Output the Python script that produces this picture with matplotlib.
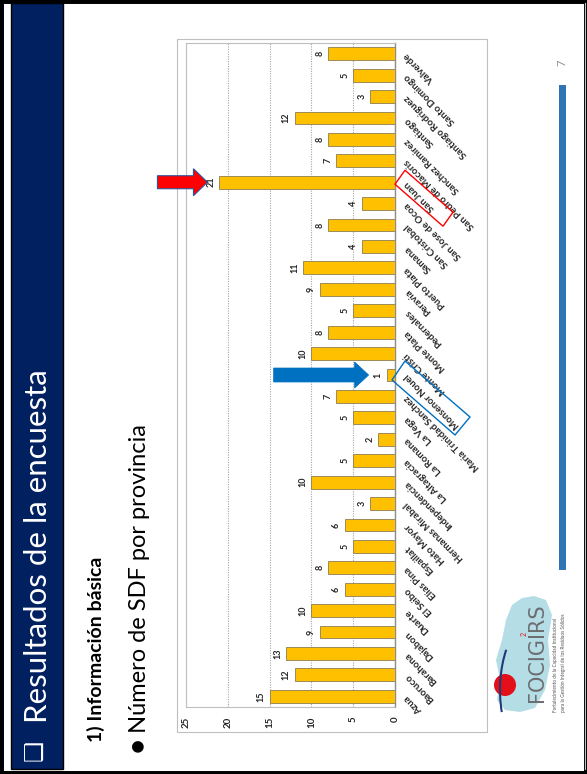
import matplotlib
matplotlib.use('Agg')
import matplotlib.pyplot as plt
from matplotlib.patches import Polygon, Rectangle, Circle, Arc
import numpy as np

# ---------------- data ----------------
provinces = ["Azua", "Baoruco", "Barahona", "Dajabon", "Duarte", "El Seibo",
             "Elias Pina", "Espaillat", "Hato Mayor", "Hermanas Mirabal",
             "Independencia", "La Altagracia", "La Romana", "La Vega",
             "Maria Trinidad Sanchez", "Monsenor Nouel", "Monte Cristi",
             "Monte Plata", "Pedernales", "Peravia", "Puerto Plata", "Samana",
             "San Cristobal", "San Jose de Ocoa", "San Juan",
             "San Pedro de Macoris", "Sanchez Ramirez", "Santiago",
             "Santiago Rodriguez", "Santo Domingo", "Valverde"]
sdf_counts = [15, 12, 13, 9, 10, 6, 8, 5, 6, 3, 10, 5, 2, 5, 7, 1, 10, 8, 5, 9,
              11, 4, 8, 4, 21, 7, 8, 12, 3, 5, 8]
value_ticks = [0, 5, 10, 15, 20, 25]
value_tick_labels = ["0", "5", "10", "15", "20", "25"]
highlight_max = "San Juan"
highlight_min = "Monsenor Nouel"

title_text = "Resultados de la encuesta"
section_text = "1) Información básica"
bullet_text = "● Número de SDF por provincia"
page_number = "7"

# ---------------- figure ----------------
W, H = 587, 774
fig = plt.figure(figsize=(W / 100, H / 100), dpi=100)
fig.patch.set_facecolor('white')
FONT = ['Lato', 'DejaVu Sans']

ax_l, ax_r, ax_t, ax_b = 186, 395, 43, 707
ax = fig.add_axes([ax_l / W, 1 - ax_b / H, (ax_r - ax_l) / W, (ax_b - ax_t) / H])
ax.set_facecolor('none')
ypos = np.arange(len(provinces))
ax.barh(ypos, sdf_counts, height=0.6, color='#FFC000', edgecolor='#8C7D55',
        linewidth=0.6, zorder=3)
ax.set_xlim(25, 0)
ax.set_ylim(-0.5, len(provinces) - 0.5)
ax.set_xticks(value_ticks)
ax.set_xticklabels(value_tick_labels, rotation=90, fontsize=7, fontweight='bold',
                   family=FONT, va='top', ha='center', color='#262626')
ax.tick_params(axis='x', length=0, pad=7)
ax.xaxis.grid(True, linestyle=(0, (1, 1.2)), color='#A6A6A6', linewidth=0.8, zorder=0)
ax.set_axisbelow(True)
ax.set_yticks([])
# category labels drawn as slanted text to the right of the zero axis
lab_tr = ax.get_yaxis_transform()
for i, name in enumerate(provinces):
    ax.text(1 + 11 / (ax_r - ax_l), i, name, transform=lab_tr, rotation=135,
            rotation_mode='anchor', ha='right', va='center', fontsize=7,
            fontweight='bold', family=FONT, color='#262626', clip_on=False)
for side in ['left', 'top', 'bottom']:
    ax.spines[side].set_color('#BFBFBF')
    ax.spines[side].set_linewidth(0.8)
ax.spines['right'].set_color('#8C8C8C')
ax.spines['right'].set_linewidth(1.0)

for i, v in enumerate(sdf_counts):
    ax.text(v + 0.45, i, str(v), rotation=90, ha='right', va='center',
            fontsize=6.5, fontweight='bold', family=FONT, color='#262626')

# ---------------- overlay (pixel coordinates, y down) ----------------
ov = fig.add_axes([0, 0, 1, 1])
ov.set_xlim(0, W)
ov.set_ylim(H, 0)
ov.axis('off')
ov.set_zorder(5)
ov.patch.set_alpha(0)


def to_px(xv, yv):
    dx, dy = ax.transData.transform((xv, yv))
    return dx, H - dy


# slide frame
ov.add_patch(Rectangle((0, 0), W, H, fill=False, ec='black', lw=5))
ov.plot([584.5, 584.5], [3, 769], color='#BFBFBF', lw=0.8)
ov.add_patch(Rectangle((11, 3), 52, 766, fc='#002060', ec='black', lw=1))

# title and texts
ov.text(35, 761, "❑", rotation=90, color='white', fontsize=17, ha='center',
        va='bottom', family=['DejaVu Sans'])
ov.text(38, 723, title_text, rotation=90, color='white', fontsize=22.5,
        ha='center', va='bottom', family=FONT, fontweight='normal')
ov.text(96, 742, section_text, rotation=90, color='black', fontsize=14,
        ha='center', va='bottom', family=FONT, fontweight='bold')
ov.text(140, 753, bullet_text, rotation=90, color='black', fontsize=17,
        ha='center', va='bottom', family=FONT)

# chart area border
ov.add_patch(Rectangle((177, 39), 310, 693, fill=False, ec='#BFBFBF', lw=0.8))

# red arrow at maximum
imax = provinces.index(highlight_max)
bx, by = to_px(sdf_counts[imax], imax)
tip = bx - 12
pts = [(tip - 50, by - 6.5), (tip - 14, by - 6.5), (tip - 14, by - 13.5), (tip, by),
       (tip - 14, by + 13.5), (tip - 14, by + 6.5), (tip - 50, by + 6.5)]
ov.add_patch(Polygon(pts, closed=True, fc='#FF0000', ec='#2F5597', lw=0.8))

# blue arrow at minimum
imin = provinces.index(highlight_min)
bx2, by2 = to_px(sdf_counts[imin], imin)
tip2 = bx2 - 18
pts2 = [(tip2 - 95, by2 - 7), (tip2 - 14, by2 - 7), (tip2 - 14, by2 - 13), (tip2, by2),
        (tip2 - 14, by2 + 13), (tip2 - 14, by2 + 7), (tip2 - 95, by2 + 7)]
ov.add_patch(Polygon(pts2, closed=True, fc='#0070C0', ec='#0070C0', lw=0.5))

# boxes around labels
ax0, _ = to_px(0, 0)
red_box = [(ax0, by + 2), (ax0 + 10, by - 12), (ax0 + 58, by + 30), (ax0 + 48, by + 44)]
ov.add_patch(Polygon(red_box, closed=True, fill=False, ec='#FF0000', lw=1.0))
blue_box = [(ax0 - 3, by2 + 5), (ax0 + 10, by2 - 14), (ax0 + 75, by2 + 42),
            (ax0 + 60, by2 + 60)]
ov.add_patch(Polygon(blue_box, closed=True, fill=False, ec='#0070C0', lw=1.0,
                     joinstyle='round'))

# right decorations
ov.add_patch(Rectangle((559, 85), 7, 485, fc='#2E75B6', ec='none'))
ov.text(562, 63, page_number, rotation=90, color='#8C8C8C', fontsize=8,
        ha='center', va='center', family=FONT)

# logo
map_pts = [(497, 700), (500, 680), (496, 660), (502, 640), (506, 620), (512, 605),
           (522, 598), (534, 596), (546, 600), (552, 615), (548, 640), (550, 665),
           (545, 690), (535, 708), (520, 712), (505, 710)]
ov.add_patch(Polygon(map_pts, closed=True, fc='#B4DDE6', ec='none'))
ov.add_patch(Circle((505, 685), 11, fc='#E3101A', ec='none'))
ov.add_patch(Arc((540, 690), 80, 150, theta1=150, theta2=230, color='#1F3A7A', lw=1.5))
ov.text(537, 702, "FOCIGIRS", rotation=90, color='#6D6E71', fontsize=15,
        ha='center', va='bottom', family=['Liberation Sans Narrow', 'DejaVu Sans'])
ov.text(524, 634, "2", rotation=90, color='#E3101A', fontsize=5,
        ha='center', va='center', family=FONT)
ov.text(556, 712, "Fortalecimiento de la Capacidad Institucional", rotation=90,
        color='#555555', fontsize=3.4, ha='center', va='bottom', family=FONT)
ov.text(564, 712, "para la Gestión Integral de los Residuos Sólidos", rotation=90,
        color='#555555', fontsize=3.4, ha='center', va='bottom', family=FONT)

fig.savefig('out.png', dpi=100)
